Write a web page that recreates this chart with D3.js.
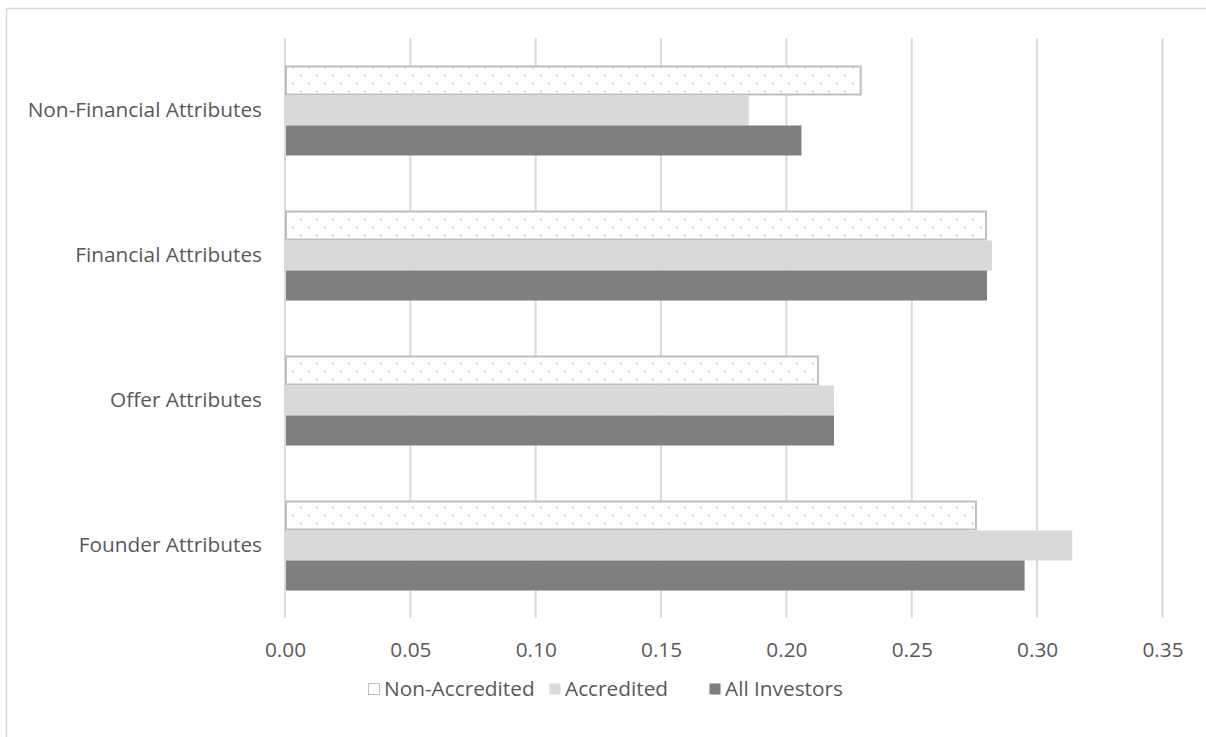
<!DOCTYPE html>
<html>
<head>
<meta charset="utf-8">
<script src="https://cdn.jsdelivr.net/npm/d3@7/dist/d3.min.js"></script>
<style>
  html, body { margin: 0; padding: 0; background: #ffffff; }
  svg { display: block; }
  text { font-family: "Open Sans", "Liberation Sans", sans-serif; fill: #595959; }
</style>
</head>
<body>
<svg id="chart" width="1206" height="737"></svg>
<script>
// Attribute groups, listed top to bottom
const categories = ["Non-Financial Attributes", "Financial Attributes", "Offer Attributes", "Founder Attributes"];
// Investor groups, drawn top to bottom within each attribute group
const seriesNames = ["Non-Accredited", "Accredited", "All Investors"];
const nonAccredited = [0.230, 0.280, 0.213, 0.276];
const accredited    = [0.185, 0.282, 0.219, 0.314];
const allInvestors  = [0.206, 0.280, 0.219, 0.295];
const tickValues = [0, 0.05, 0.10, 0.15, 0.20, 0.25, 0.30, 0.35];

const seriesValues = [nonAccredited, accredited, allInvestors];
const rows = [];
categories.forEach((c, i) => {
  seriesNames.forEach((s, j) => rows.push({ category: c, series: s, value: seriesValues[j][i] }));
});

const FONT = 20.8;
const svg = d3.select("#chart");

// outer chart frame
svg.append("rect")
  .attr("x", 6.5).attr("y", 8.5)
  .attr("width", 1260).attr("height", 800)
  .attr("fill", "none").attr("stroke", "#d9d9d9").attr("stroke-width", 1.5);

// dotted fill for the Non-Accredited bars
const defs = svg.append("defs");
const pat = defs.append("pattern")
  .attr("id", "dots").attr("patternUnits", "userSpaceOnUse")
  .attr("width", 16).attr("height", 16);
pat.append("rect").attr("width", 16).attr("height", 16).attr("fill", "#ffffff");
pat.append("rect").attr("x", 12).attr("y", 10.5).attr("width", 2).attr("height", 2).attr("fill", "#d0d0d0");
pat.append("rect").attr("x", 4).attr("y", 2.5).attr("width", 2).attr("height", 2).attr("fill", "#d0d0d0");

const x = d3.scaleLinear().domain([0, 0.35]).range([285, 1162.5]);
const y0 = d3.scaleBand().domain(categories).range([38, 618])
  .paddingInner(0.3793).paddingOuter(0.3793 / 2);
const y1 = d3.scaleBand().domain(seriesNames).range([0, y0.bandwidth()]);

// vertical gridlines
svg.append("g")
  .selectAll("line").data(tickValues).join("line")
  .attr("x1", d => x(d)).attr("x2", d => x(d))
  .attr("y1", 38).attr("y2", 618)
  .attr("stroke", "#d9d9d9").attr("stroke-width", 2);

// bars
const fills = {
  "Non-Accredited": "url(#dots)",
  "Accredited": "#d9d9d9",
  "All Investors": "#7f7f7f"
};
svg.append("g")
  .selectAll("rect").data(rows).join("rect")
  .attr("x", x(0) + 1)
  .attr("y", d => y0(d.category) + y1(d.series) + (d.series === "Non-Accredited" ? 1 : 0))
  .attr("width", d => x(d.value) - x(0) - 1 - (d.series === "Non-Accredited" ? 1 : 0))
  .attr("height", d => y1.bandwidth() - (d.series === "Non-Accredited" ? 2 : 0))
  .attr("fill", d => fills[d.series])
  .attr("stroke", d => d.series === "Non-Accredited" ? "#bfbfbf" : "none")
  .attr("stroke-width", 2);

// x axis tick labels
const xAxis = d3.axisBottom(x).tickValues(tickValues).tickFormat(d3.format(".2f")).tickSize(0).tickPadding(0);
const gx = svg.append("g").attr("transform", "translate(0,657)").call(xAxis);
gx.select(".domain").remove();
gx.selectAll("text").attr("font-size", FONT).attr("y", 0).attr("dy", null)
  .style("font-family", "'Open Sans', sans-serif").attr("fill", "#595959");

// category labels
const yAxis = d3.axisLeft(y0).tickSize(0).tickPadding(0);
const gy = svg.append("g").attr("transform", "translate(262,0)").call(yAxis);
gy.select(".domain").remove();
gy.selectAll("text").attr("font-size", FONT)
  .style("font-family", "'Open Sans', sans-serif").attr("fill", "#595959");

// legend row under the axis
const legendY = 689, swatch = 12, swatchGap = 4;
const legendX = [368, 549, 709];
const entries = svg.append("g").selectAll("g").data(seriesNames).join("g")
  .attr("transform", (d, i) => `translate(${legendX[i]},${legendY})`);
entries.append("rect")
  .attr("x", 0.5).attr("y", -swatch / 2 + 0.5).attr("width", swatch - 1).attr("height", swatch - 1)
  .attr("fill", d => d === "Non-Accredited" ? "#ffffff" : fills[d])
  .attr("stroke", d => d === "Non-Accredited" ? "#bfbfbf" : "none");
entries.append("text")
  .attr("x", swatch + swatchGap).attr("dy", "0.35em")
  .attr("font-size", FONT)
  .text(d => d);
</script>
</body>
</html>
